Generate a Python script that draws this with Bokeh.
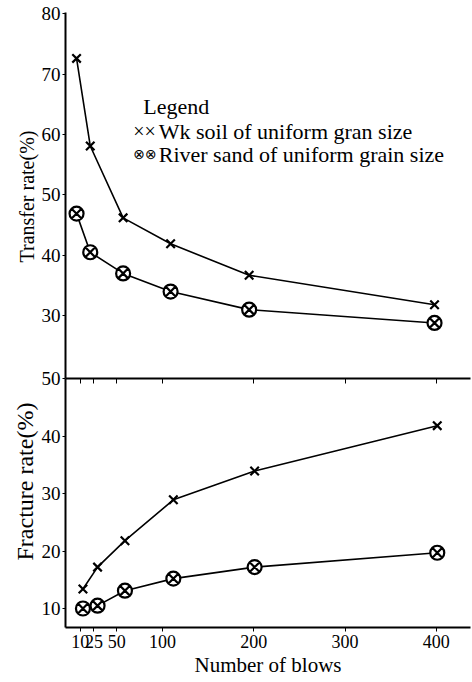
from bokeh.plotting import figure
from bokeh.models import Range1d, FixedTicker, LinearAxis, Label, Title
from bokeh.layouts import column
from bokeh.embed import file_html
from bokeh.resources import INLINE

# ---- data ----
transfer_blows = [6, 21, 57, 109, 195, 398]
fracture_blows = [13, 29, 59, 112, 201, 401]
transfer_soil = [72.6, 58.1, 46.2, 41.9, 36.7, 31.8]
transfer_sand = [46.9, 40.5, 37.0, 34.0, 31.0, 28.8]
fracture_soil = [13.4, 17.2, 21.8, 28.9, 33.9, 41.8]
fracture_sand = [10.0, 10.5, 13.1, 15.2, 17.2, 19.7]
x_ticks = [10, 25, 50, 100, 200, 300, 400]
transfer_ticks = [30, 40, 50, 60, 70, 80]
fracture_ticks = [10, 20, 30, 40, 50]

SERIF = "Liberation Serif"
xr = Range1d(-6.1, 437.4)


def style_y(ax, ticks):
    ax.ticker = FixedTicker(ticks=ticks)
    ax.axis_line_width = 2
    ax.major_tick_out = 3
    ax.major_tick_in = 0
    ax.minor_tick_out = 0
    ax.minor_tick_in = 0
    ax.major_label_standoff = 2
    ax.major_label_text_font = SERIF
    ax.major_label_text_font_size = "19px"
    ax.major_label_text_color = "black"


def legend_text(txt, x, y, font=SERIF, size="22px"):
    return Label(x=x, y=y, text=txt, text_align="left", text_baseline="middle",
                 text_font=font, text_font_size=size, text_color="black")


top = figure(width=472, height=378, x_range=xr, y_range=Range1d(19.6, 80.2),
             output_backend="svg", toolbar_location=None, x_axis_location=None,
             min_border_left=65, min_border_right=2, min_border_top=12,
             min_border_bottom=0)
top.outline_line_color = None
top.grid.visible = False
style_y(top.yaxis[0], transfer_ticks)
top.add_layout(Title(text="Transfer rate(%)", align="left", offset=116,
                     text_font=SERIF, text_font_size="20px",
                     text_font_style="normal", text_color="black",
                     standoff=2), "left")

top.line(transfer_blows, transfer_soil, line_color="black", line_width=1.6)
top.line(transfer_blows, transfer_sand, line_color="black", line_width=1.6)
top.scatter(transfer_blows, transfer_soil, marker="x", size=12, line_color="black",
            line_width=2.2)
top.scatter(transfer_blows, transfer_sand, marker="circle_x", size=14,
            line_color="black", fill_color="white", line_width=2.2)

top.add_layout(legend_text("Legend", 79, 64.6))
top.add_layout(legend_text("××", 68, 60.5, size="20px"))
top.add_layout(legend_text("Wk soil of uniform gran size", 96, 60.5))
top.add_layout(legend_text("⊗⊗", 68, 56.7, font="DejaVu Sans", size="14px"))
top.add_layout(legend_text("River sand of uniform grain size", 96, 56.7))

bot = figure(width=472, height=316, x_range=xr, y_range=Range1d(6.7, 50),
             output_backend="svg", toolbar_location=None,
             min_border_left=65, min_border_right=2, min_border_top=12,
             min_border_bottom=55, margin=(-12, 0, 0, 0),
             background_fill_color=None, border_fill_color=None)
bot.outline_line_color = None
bot.grid.visible = False
style_y(bot.yaxis[0], fracture_ticks)
bot.add_layout(Title(text="Fracture rate(%)", align="left", offset=67,
                     text_font=SERIF, text_font_size="24px",
                     text_font_style="normal", text_color="black",
                     standoff=2), "left")

xa = bot.xaxis[0]
xa.ticker = FixedTicker(ticks=x_ticks)
xa.axis_line_width = 2
xa.major_tick_out = 4
xa.major_tick_in = 0
xa.minor_tick_out = 0
xa.minor_tick_in = 0
xa.major_label_standoff = 3
xa.major_label_text_font = SERIF
xa.major_label_text_font_size = "18px"
xa.major_label_text_color = "black"
xa.axis_label = "Number of blows"
xa.axis_label_text_font = SERIF
xa.axis_label_text_font_size = "21px"
xa.axis_label_text_font_style = "normal"
xa.axis_label_text_color = "black"
xa.axis_label_standoff = 2

top_ax = LinearAxis(ticker=FixedTicker(ticks=x_ticks), axis_line_width=2,
                    major_tick_in=5, major_tick_out=0, minor_tick_in=0,
                    minor_tick_out=0, major_label_standoff=0,
                    major_label_text_font_size="9px",
                    major_label_text_color=None)
bot.add_layout(top_ax, "above")

bot.line(fracture_blows, fracture_soil, line_color="black", line_width=1.6)
bot.line(fracture_blows, fracture_sand, line_color="black", line_width=1.6)
bot.scatter(fracture_blows, fracture_soil, marker="x", size=12, line_color="black",
            line_width=2.2)
bot.scatter(fracture_blows, fracture_sand, marker="circle_x", size=14,
            line_color="black", fill_color="white", line_width=2.2)

layout = column(top, bot, spacing=0)
open("out.html", "w").write(file_html(layout, INLINE))
